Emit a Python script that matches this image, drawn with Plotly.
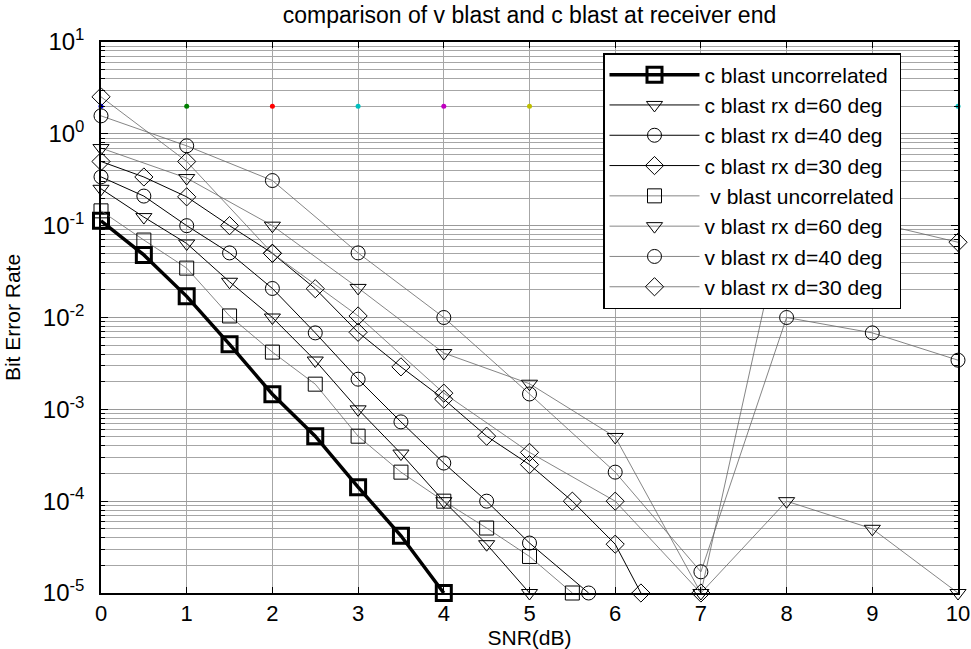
import plotly.graph_objects as go

# ---------------- data ----------------
snr_half = [0, 0.5, 1, 1.5, 2, 2.5, 3, 3.5, 4, 4.5, 5, 5.5, 6]
snr_full = [0, 1, 2, 3, 4, 5, 6, 7, 8, 9, 10]

c_uncorr_x = snr_half[:9]
c_uncorr = [0.113, 0.048, 0.017, 0.0051, 0.00146, 0.00051, 1.42e-4, 4.2e-5, 1e-5]

c_60_x = snr_half[:11]
c_60 = [0.252, 0.124, 0.064, 0.0245, 0.01, 0.0034, 0.001, 3.3e-4, 1e-4, 3.4e-5, 1e-5]

c_40_x = snr_half[:11] + [5.69]
c_40 = [0.34, 0.21, 0.1, 0.0505, 0.0207, 0.0068, 0.00213, 7.3e-4, 2.6e-4, 1e-4, 3.5e-5, 1e-5]

c_30_x = snr_half[:13] + [6.3]
c_30 = [0.5, 0.339, 0.206, 0.1, 0.05, 0.0206, 0.0069, 0.0029, 0.00129, 5.1e-4,
        2.5e-4, 1e-4, 3.4e-5, 1e-5]

v_uncorr_x = snr_half[:12]
v_uncorr = [0.145, 0.0697, 0.0345, 0.0104, 0.0042, 0.00188, 5.1e-4, 2.07e-4,
            1e-4, 5.1e-5, 2.5e-5, 1e-5]

v_60 = [0.70, 0.33, 0.1, 0.021, 0.0041, 0.0019, 5e-4, 1e-5, 1e-4, 5e-5, 1e-5]
v_40 = [1.57, 0.74, 0.31, 0.0505, 0.01, 0.00147, 2.07e-4, 1.7e-5, 0.01, 0.0068, 0.00343]
v_30 = [2.53, 0.5, 0.05, 0.0104, 0.0015, 3.4e-4, 1e-4, 1e-5, 0.17, 0.11, 0.066]

dots_y = [2] * 11
dot_colors = ["#0000ff", "#008000", "#ff0000", "#00bfbf", "#bf00bf", "#bfbf00",
              "#404040", "#0000ff", "#008000", "#ff0000", "#00bfbf"]

ytick_vals = [1e-5, 1e-4, 1e-3, 1e-2, 1e-1, 1, 10]
ytick_text = ["10<sup>-5</sup>", "10<sup>-4</sup>", "10<sup>-3</sup>", "10<sup>-2</sup>",
              "10<sup>-1</sup>", "10<sup>0</sup>", "10<sup>1</sup>"]

names = ["c blast uncorrelated", "c blast rx d=60 deg", "c blast rx d=40 deg",
         "c blast rx d=30 deg", " v blast uncorrelated", "v blast rx d=60 deg",
         "v blast rx d=40 deg", "v blast rx d=30 deg"]

FONT = "Liberation Sans, Arial, sans-serif"
fig = go.Figure()

# colored dots (not in legend)
fig.add_trace(go.Scatter(x=snr_full, y=dots_y, mode="markers",
                         marker=dict(color=dot_colors, size=5),
                         showlegend=False, cliponaxis=False, hoverinfo="skip"))

series = [
    (c_uncorr_x, c_uncorr, "square-open", 15, 3.5, "black", 3),
    (c_60_x, c_60, "triangle-down-open", 14, 1, "black", 1),
    (c_40_x, c_40, "circle-open", 14, 1, "black", 1),
    (c_30_x, c_30, "diamond-open", 14, 1, "black", 1),
    (v_uncorr_x, v_uncorr, "square-open", 14, 0.8, "#666666", 1),
    (snr_full, v_60, "triangle-down-open", 14, 0.8, "#666666", 1),
    (snr_full, v_40, "circle-open", 14, 0.8, "#666666", 1),
    (snr_full, v_30, "diamond-open", 14, 0.8, "#666666", 1),
]
for i, (xs, ys, sym, msize, lw, lc, mlw) in enumerate(series):
    fig.add_trace(go.Scatter(
        x=xs, y=ys, mode="lines+markers", name=names[i], legendgroup=f"g{i}",
        line=dict(color=lc, width=lw),
        marker=dict(symbol=sym, size=msize, color="black",
                    line=dict(color="black", width=mlw)),
        cliponaxis=False))

fig.update_layout(
    width=971, height=649,
    margin=dict(l=101, r=13, t=42, b=56, autoexpand=False),
    paper_bgcolor="white", plot_bgcolor="white",
    font=dict(family=FONT, color="black", size=22),
    title=dict(text="comparison of v blast and c blast at receiver end",
               x=0.5, xref="paper", xanchor="center",
               y=1 - 15 / 649, yref="container", yanchor="middle",
               font=dict(size=23, family=FONT, color="black")),
    showlegend=True,
    legend=dict(x=(603 - 101) / 857, y=(593 - 53) / 551, xanchor="left", yanchor="top",
                bgcolor="white", bordercolor="black", borderwidth=1.5,
                font=dict(size=21, family=FONT), tracegroupgap=0, itemwidth=90),
)

fig.update_xaxes(
    range=[0, 10], dtick=1, tick0=0, automargin=False,
    showline=True, linecolor="black", linewidth=1.5, mirror="ticks",
    ticks="inside", ticklen=6, tickcolor="black",
    showgrid=True, gridcolor="#a6a6a6", gridwidth=1,
    zeroline=False,
    tickfont=dict(size=22, family=FONT),
    title=dict(text="SNR(dB)", font=dict(size=21, family=FONT), standoff=6),
)
fig.update_yaxes(
    type="log", range=[-5, 1], automargin=False,
    tickmode="array", tickvals=ytick_vals, ticktext=ytick_text,
    showline=True, linecolor="black", linewidth=1.5, mirror="ticks",
    ticks="inside", ticklen=7, tickcolor="black", ticklabelstandoff=10,
    showgrid=True, gridcolor="#9a9a9a", gridwidth=1,
    minor=dict(tickmode="linear", dtick="D1", ticks="inside", ticklen=4,
               tickcolor="black", showgrid=True, gridcolor="#a6a6a6", gridwidth=1),
    zeroline=False,
    tickfont=dict(size=24, family=FONT),
    title=dict(text="Bit Error Rate", font=dict(size=21, family=FONT), standoff=16),
)

fig.write_html("out.html")
